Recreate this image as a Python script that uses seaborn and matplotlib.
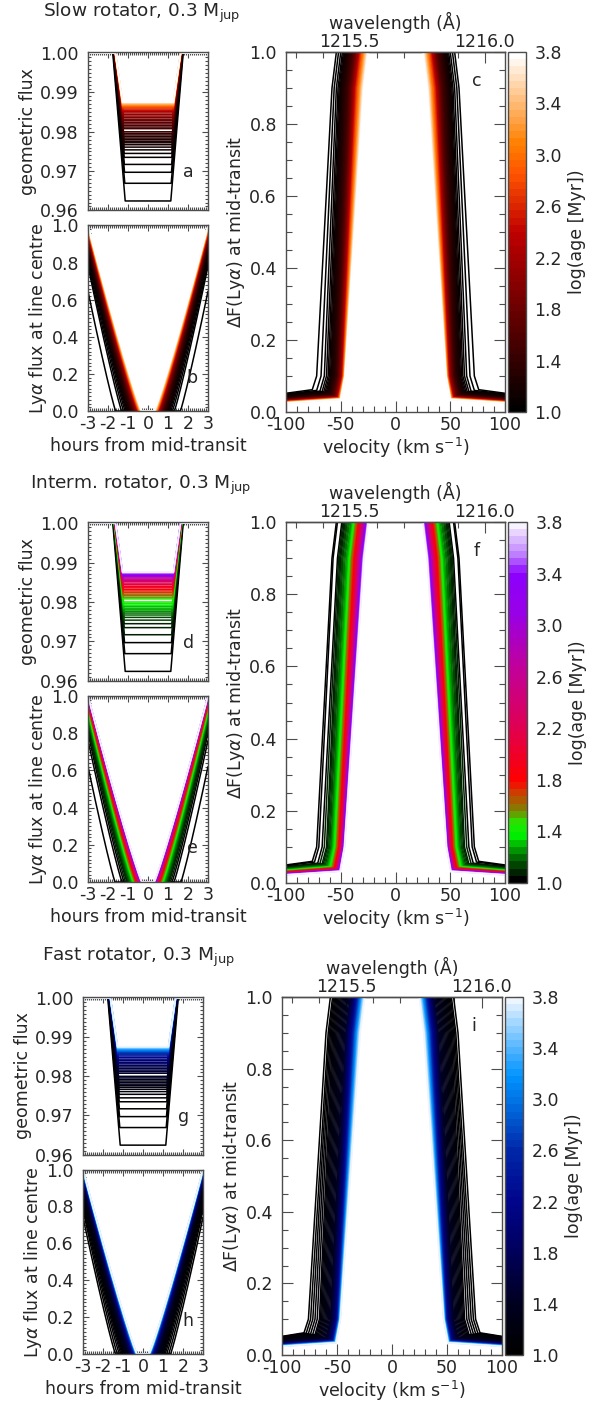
import numpy as np
import pandas as pd
import matplotlib
matplotlib.use("Agg")
import matplotlib.pyplot as plt
import seaborn as sns
from matplotlib.colors import LinearSegmentedColormap, Normalize
from matplotlib.cm import ScalarMappable
from matplotlib.ticker import MultipleLocator, FormatStrFormatter

# log(age [Myr]) of the model snapshots (same grid for the three rotators)
log_age = [1.00, 1.02, 1.04, 1.06, 1.08, 1.10, 1.12, 1.14, 1.17, 1.20,
           1.23, 1.26, 1.29, 1.32, 1.36, 1.40, 1.44, 1.48, 1.53, 1.58,
           1.64, 1.70, 1.77, 1.84, 1.92, 2.00, 2.10, 2.20, 2.32, 2.45,
           2.58, 2.72, 2.86, 3.00, 3.14, 3.28, 3.42, 3.56, 3.70, 3.80]

# geometric flux at mid-transit
geo_depth = [0.9624, 0.9669, 0.9697, 0.9717, 0.9735, 0.9745, 0.9754, 0.9761, 0.9767, 0.9772,
             0.9776, 0.9780, 0.9784, 0.9788, 0.9792, 0.9796, 0.9800, 0.9808, 0.9812, 0.9816,
             0.9820, 0.9824, 0.9828, 0.9832, 0.9836, 0.9840, 0.9844, 0.9848, 0.9852, 0.9855,
             0.9858, 0.9861, 0.9864, 0.9866, 0.9868, 0.9870, 0.9872, 0.9874, 0.9875, 0.9876]

# Lya at line centre: half width of the zero-flux part (hours) and flux at +-3 h
lya_t0_slow = [1.62, 1.32, 1.22, 1.14, 1.08, 1.03, 0.99, 0.96, 0.93, 0.90,
               0.88, 0.86, 0.84, 0.82, 0.80, 0.78, 0.76, 0.74, 0.72, 0.70,
               0.68, 0.66, 0.64, 0.62, 0.60, 0.58, 0.56, 0.54, 0.52, 0.50,
               0.48, 0.46, 0.44, 0.42, 0.40, 0.38, 0.36, 0.34, 0.32, 0.30]
lya_f3_slow = [0.645, 0.78, 0.80, 0.82, 0.84, 0.855, 0.865, 0.872, 0.878, 0.884,
               0.888, 0.892, 0.896, 0.900, 0.904, 0.908, 0.912, 0.916, 0.920, 0.924,
               0.928, 0.932, 0.936, 0.940, 0.944, 0.948, 0.952, 0.956, 0.960, 0.964,
               0.968, 0.972, 0.976, 0.980, 0.984, 0.988, 0.991, 0.994, 0.997, 1.000]
lya_t0_int = [1.65, 1.30, 1.20, 1.12, 1.05, 1.00, 0.96, 0.92, 0.89, 0.86,
              0.83, 0.80, 0.78, 0.76, 0.74, 0.72, 0.70, 0.68, 0.66, 0.64,
              0.62, 0.60, 0.58, 0.56, 0.54, 0.52, 0.50, 0.48, 0.46, 0.44,
              0.42, 0.40, 0.38, 0.36, 0.35, 0.34, 0.33, 0.32, 0.31, 0.30]
lya_f3_int = [0.62, 0.76, 0.80, 0.82, 0.84, 0.855, 0.865, 0.875, 0.883, 0.890,
              0.896, 0.902, 0.908, 0.913, 0.918, 0.923, 0.928, 0.933, 0.938, 0.943,
              0.948, 0.953, 0.958, 0.962, 0.966, 0.970, 0.974, 0.977, 0.980, 0.983,
              0.986, 0.988, 0.990, 0.992, 0.994, 0.996, 0.997, 0.998, 0.999, 1.000]
lya_t0_fast = [1.38, 1.28, 1.18, 1.10, 1.04, 0.99, 0.95, 0.91, 0.88, 0.85,
               0.82, 0.79, 0.77, 0.75, 0.73, 0.71, 0.69, 0.67, 0.65, 0.63,
               0.61, 0.59, 0.57, 0.55, 0.53, 0.51, 0.49, 0.47, 0.45, 0.43,
               0.41, 0.39, 0.37, 0.35, 0.34, 0.33, 0.32, 0.31, 0.30, 0.30]
lya_f3_fast = [0.74, 0.78, 0.80, 0.82, 0.84, 0.85, 0.86, 0.87, 0.878, 0.886,
               0.892, 0.898, 0.904, 0.910, 0.915, 0.920, 0.925, 0.930, 0.935, 0.940,
               0.944, 0.948, 0.952, 0.956, 0.960, 0.964, 0.968, 0.972, 0.975, 0.978,
               0.981, 0.984, 0.987, 0.990, 0.992, 0.994, 0.996, 0.998, 0.999, 1.000]

# dF(Lya) at mid-transit: |v| where dF reaches 1, |v| at dF=0.1 (km/s), level at +-100 km/s
vtop_slow = [54.0, 52.0, 50.0, 48.5, 47.5, 46.6, 45.9, 45.3, 44.7, 44.1,
             43.5, 42.9, 42.3, 41.7, 41.1, 40.5, 39.9, 39.3, 38.7, 38.1,
             37.5, 36.9, 36.4, 35.9, 35.4, 34.9, 34.4, 33.9, 33.3, 32.7,
             32.0, 31.2, 30.4, 29.6, 28.8, 28.0, 27.2, 26.4, 25.6, 24.8]
vlow_slow = [72.0, 68.0, 65.0, 63.0, 61.5, 60.3, 59.3, 58.5, 57.8, 57.2,
             56.6, 56.0, 55.5, 55.0, 54.5, 54.0, 53.6, 53.2, 52.8, 52.4,
             52.0, 51.6, 51.2, 50.8, 50.4, 50.0, 49.6, 49.2, 48.8, 48.4,
             48.1, 47.8, 47.5, 47.2, 46.9, 46.7, 46.5, 46.3, 46.1, 46.0]
base_slow = [0.052, 0.050, 0.048, 0.047, 0.046, 0.045, 0.044, 0.043, 0.042, 0.041,
             0.040, 0.040, 0.039, 0.038, 0.038, 0.037, 0.036, 0.036, 0.035, 0.035,
             0.034, 0.034, 0.033, 0.033, 0.032, 0.032, 0.031, 0.031, 0.030, 0.030,
             0.029, 0.029, 0.028, 0.028, 0.027, 0.027, 0.026, 0.026, 0.025, 0.025]
vtop_int = [54.0, 53.0, 49.0, 48.0, 47.0, 46.0, 45.0, 44.0, 43.0, 42.0,
            41.0, 40.0, 39.5, 39.0, 38.5, 38.0, 37.5, 37.0, 36.5, 36.0,
            35.3, 34.6, 34.0, 33.4, 32.8, 32.2, 31.6, 31.0, 30.4, 29.8,
            29.2, 28.6, 28.0, 27.5, 27.0, 26.5, 26.0, 25.5, 25.1, 24.8]
vlow_int = [72.0, 70.0, 67.0, 65.0, 63.0, 62.0, 61.0, 60.0, 59.0, 58.5,
            58.0, 57.5, 57.0, 56.5, 56.0, 55.5, 55.0, 54.5, 54.0, 53.5,
            53.0, 52.5, 52.0, 51.5, 51.0, 50.6, 50.2, 49.8, 49.4, 49.0,
            48.7, 48.4, 48.1, 47.8, 47.5, 47.2, 47.0, 46.8, 46.6, 46.4]
base_int = [0.050, 0.048, 0.045, 0.044, 0.043, 0.042, 0.041, 0.040, 0.039, 0.038,
            0.037, 0.036, 0.036, 0.035, 0.035, 0.034, 0.034, 0.033, 0.033, 0.032,
            0.032, 0.031, 0.031, 0.030, 0.030, 0.029, 0.029, 0.028, 0.028, 0.027,
            0.027, 0.026, 0.026, 0.025, 0.025, 0.024, 0.024, 0.023, 0.023, 0.022]
vtop_fast = [56.0, 54.0, 53.0, 52.0, 51.0, 50.0, 49.0, 48.0, 47.0, 46.0,
             45.0, 44.0, 43.0, 42.0, 41.0, 40.0, 39.0, 38.0, 37.5, 37.0,
             36.5, 36.0, 35.5, 35.0, 34.5, 34.0, 33.4, 32.8, 32.2, 31.6,
             31.0, 30.3, 29.6, 28.9, 28.2, 27.5, 26.8, 26.1, 25.4, 24.8]
vlow_fast = [76.0, 74.0, 72.0, 70.0, 68.0, 66.0, 65.0, 64.0, 63.0, 62.0,
             61.0, 60.0, 59.0, 58.0, 57.0, 56.0, 55.5, 55.0, 54.5, 54.0,
             53.5, 53.0, 52.5, 52.0, 51.5, 51.0, 50.6, 50.2, 49.8, 49.4,
             49.0, 48.7, 48.4, 48.1, 47.8, 47.6, 47.4, 47.2, 47.0, 46.8]
base_fast = [0.052, 0.051, 0.050, 0.049, 0.048, 0.047, 0.046, 0.045, 0.044, 0.043,
             0.042, 0.041, 0.040, 0.039, 0.038, 0.037, 0.036, 0.035, 0.034, 0.034,
             0.033, 0.033, 0.032, 0.032, 0.031, 0.031, 0.030, 0.030, 0.029, 0.029,
             0.028, 0.028, 0.027, 0.027, 0.026, 0.026, 0.025, 0.025, 0.024, 0.024]

# colour scales along log(age)
heat_cmap = plt.get_cmap("gist_heat")
interm_nodes = [(1.00, (0.0, 0.0, 0.0)), (1.15, (0.0, 0.35, 0.0)), (1.35, (0.0, 0.95, 0.0)),
                (1.45, (0.15, 0.9, 0.0)), (1.55, (0.5, 0.5, 0.0)), (1.68, (0.8, 0.25, 0.0)),
                (1.78, (1.0, 0.0, 0.0)), (2.20, (0.88, 0.0, 0.32)), (2.70, (0.75, 0.0, 0.62)),
                (3.10, (0.6, 0.0, 0.9)), (3.42, (0.55, 0.0, 1.0)), (3.55, (0.72, 0.45, 1.0)),
                (3.80, (0.97, 0.95, 1.0))]
fast_nodes = [(1.00, (0.0, 0.0, 0.0)), (1.40, (0.0, 0.0, 0.13)), (1.80, (0.0, 0.0, 0.36)),
              (2.20, (0.0, 0.02, 0.55)), (2.60, (0.0, 0.15, 0.66)), (3.00, (0.0, 0.45, 0.9)),
              (3.20, (0.0, 0.58, 1.0)), (3.40, (0.3, 0.7, 1.0)), (3.60, (0.6, 0.83, 1.0)),
              (3.80, (0.93, 0.96, 1.0))]

AGE_MIN, AGE_MAX = 1.0, 3.8
LAM0, C_KMS = 1215.67, 299792.458
HALF_DUR, INGRESS = 1.45, 1.6     # transit half duration and ingress scale (hours)


def node_cmap(name, nodes):
    return LinearSegmentedColormap.from_list(
        name, [((a - AGE_MIN) / (AGE_MAX - AGE_MIN), c) for a, c in nodes])


def build_frames(t0_list, f3_list, vtop, vlow, base):
    geo, lya, dfl = [], [], []
    t_grid = np.linspace(-3, 3, 241)
    for i, la in enumerate(log_age):
        d = geo_depth[i]
        rp = np.sqrt(1 - d)
        t1, t2 = HALF_DUR + INGRESS * rp, HALF_DUR - INGRESS * rp
        geo.append(pd.DataFrame({"t": [-3, -t1, -t2, t2, t1, 3], "flux": [1, 1, d, d, 1, 1],
                                 "log_age": la, "model": i}))
        s = np.clip((np.abs(t_grid) - t0_list[i]) / (3 - t0_list[i]), 0, None)
        lya.append(pd.DataFrame({"t": t_grid, "flux": f3_list[i] * s ** 1.1,
                                 "log_age": la, "model": i}))
        vt, vl, b = vtop[i], vlow[i], base[i]
        v = [-100, -(vl + 4), -vl, -(vt + 4), -vt, vt, vt + 4, vl, vl + 4, 100]
        y = [b, b + 0.01, 0.1, 0.9, 1.0, 1.0, 0.9, 0.1, b + 0.01, b]
        dfl.append(pd.DataFrame({"v": v, "dF": y, "log_age": la, "model": i}))
    return pd.concat(geo), pd.concat(lya), pd.concat(dfl)


sns.set_theme(style="ticks")
plt.rcParams["font.family"] = ["DejaVu Sans"]
plt.rcParams["axes.unicode_minus"] = False
plt.rcParams["axes.edgecolor"] = "0.3"
plt.rcParams["axes.linewidth"] = 1.0
FS = 12.5

W, H = 606, 1405
fig = plt.figure(figsize=(W / 100, H / 100), dpi=100)


def px_axes(x0, y0, x1, y1):
    return fig.add_axes([x0 / W, 1 - y1 / H, (x1 - x0) / W, (y1 - y0) / H])


def small_ticks(ax, ymaj, ymin, fmt):
    ax.xaxis.set_major_locator(MultipleLocator(1))
    ax.xaxis.set_minor_locator(MultipleLocator(0.1))
    ax.yaxis.set_major_locator(MultipleLocator(ymaj))
    ax.yaxis.set_minor_locator(MultipleLocator(ymin))
    ax.yaxis.set_major_formatter(FormatStrFormatter(fmt))
    ax.tick_params(which="both", direction="in", top=True, right=True,
                   color="0.3", width=0.8, labelsize=FS)
    ax.tick_params(which="major", length=4.5)
    ax.tick_params(axis="y", which="major", pad=6.5)
    ax.tick_params(axis="x", which="major", pad=3)
    ax.tick_params(which="minor", length=2.2)


rotators = [
    dict(title="Slow rotator, 0.3 M$_{\\rm jup}$", cmap=heat_cmap, letters="abc",
         t0=lya_t0_slow, f3=lya_f3_slow, vtop=vtop_slow, vlow=vlow_slow, base=base_slow,
         left=(88, 52, 208), right=(286, 505, 526), bottom=412, title_xy=(43, 13)),
    dict(title="Interm. rotator, 0.3 M$_{\\rm jup}$", cmap=node_cmap("interm", interm_nodes),
         letters="def", t0=lya_t0_int, f3=lya_f3_int, vtop=vtop_int, vlow=vlow_int,
         base=base_int, left=(88, 522, 208), right=(286, 505, 527), bottom=883,
         title_xy=(30, 485)),
    dict(title="Fast rotator, 0.3 M$_{\\rm jup}$", cmap=node_cmap("fast", fast_nodes),
         letters="ghi", t0=lya_t0_fast, f3=lya_f3_fast, vtop=vtop_fast, vlow=vlow_fast,
         base=base_fast, left=(83, 997, 203), right=(282, 502, 523), bottom=1355,
         title_xy=(42, 957)),
]

norm = Normalize(AGE_MIN, AGE_MAX)

for rot in rotators:
    cmap = rot["cmap"].resampled(50)
    geo_df, lya_df, dF_df = build_frames(rot["t0"], rot["f3"], rot["vtop"], rot["vlow"], rot["base"])
    xl, top, xr = rot["left"]
    bot = rot["bottom"]
    mid = top + 0.44 * (bot - top)
    kw = dict(hue="log_age", units="model", estimator=None, sort=False, legend=False,
              palette=cmap, hue_norm=norm, linewidth=1.1)

    fig.text(rot["title_xy"][0] / W, 1 - rot["title_xy"][1] / H, rot["title"],
             fontsize=13.3, ha="left", va="center")

    # geometric flux
    ax1 = px_axes(xl, top, xr, mid)
    sns.lineplot(data=geo_df, x="t", y="flux", ax=ax1, **kw)
    ax1.set_xlim(-3, 3)
    ax1.set_ylim(0.96, 1.0003)
    small_ticks(ax1, 0.01, 0.001, "%.2f")
    ax1.set_xticklabels([])
    ax1.set_xlabel("")
    ax1.set_ylabel("geometric flux", fontsize=FS, labelpad=2)
    ax1.text(0.84, 0.24, rot["letters"][0], transform=ax1.transAxes, fontsize=FS,
             ha="center", va="center")

    # Lya at line centre
    ax2 = px_axes(xl, mid + 15, xr, bot - 1)
    sns.lineplot(data=lya_df, x="t", y="flux", ax=ax2, **kw)
    ax2.set_xlim(-3, 3)
    ax2.set_ylim(0, 1)
    small_ticks(ax2, 0.2, 0.02, "%.1f")
    ax2.set_xlabel("hours from mid-transit", fontsize=FS, labelpad=3)
    ax2.set_ylabel("Ly$\\alpha$ flux at line centre", fontsize=FS, labelpad=2)
    ax2.text(0.87, 0.18, rot["letters"][1], transform=ax2.transAxes, fontsize=FS,
             ha="center", va="center")

    # dF(Lya) versus velocity
    x0, x1, xc = rot["right"]
    ax3 = px_axes(x0, top, x1, bot)
    sns.lineplot(data=dF_df, x="v", y="dF", ax=ax3, **kw)
    ax3.set_xlim(-100, 100)
    ax3.set_ylim(0, 1)
    ax3.xaxis.set_major_locator(MultipleLocator(50))
    ax3.xaxis.set_minor_locator(MultipleLocator(10))
    ax3.yaxis.set_major_locator(MultipleLocator(0.2))
    ax3.yaxis.set_minor_locator(MultipleLocator(0.05))
    ax3.yaxis.set_major_formatter(FormatStrFormatter("%.1f"))
    ax3.tick_params(which="both", direction="in", top=False, right=True,
                    color="0.3", width=0.8, labelsize=FS)
    ax3.tick_params(which="major", length=8)
    ax3.tick_params(axis="y", which="major", pad=6.5)
    ax3.tick_params(axis="x", which="major", pad=3)
    ax3.tick_params(which="minor", length=4.5)
    ax3.set_xlabel("velocity (km s$^{-1}$)", fontsize=FS, labelpad=1)
    ax3.set_ylabel("$\\Delta$F(Ly$\\alpha$) at mid-transit", fontsize=FS, labelpad=2)
    ax3.text(0.87, 0.92, rot["letters"][2], transform=ax3.transAxes, fontsize=FS,
             ha="center", va="center")

    sec = ax3.secondary_xaxis("top", functions=(lambda v: LAM0 * (1 + np.asarray(v) / C_KMS),
                                                lambda l: (np.asarray(l) / LAM0 - 1) * C_KMS))
    sec.set_xticks([1215.5, 1216.0])
    sec.xaxis.set_major_formatter(FormatStrFormatter("%.1f"))
    sec.xaxis.set_minor_locator(MultipleLocator(0.1))
    sec.tick_params(which="both", direction="in", color="0.3", width=0.8, labelsize=FS)
    sec.tick_params(which="major", length=8, pad=1)
    sec.tick_params(which="minor", length=4.5)
    sec.set_xlabel("wavelength (Å)", fontsize=FS, labelpad=2.5)

    # colour bar
    cax = px_axes(x1 + 3, top, xc, bot)
    cb = fig.colorbar(ScalarMappable(norm=norm, cmap=cmap), cax=cax)
    cb.set_ticks(np.arange(1.0, 3.81, 0.4))
    cb.ax.yaxis.set_major_formatter(FormatStrFormatter("%.1f"))
    cb.ax.yaxis.set_minor_locator(MultipleLocator(0.04))
    cb.ax.tick_params(which="both", direction="in", color="0.3", width=0.8, labelsize=FS)
    cb.ax.tick_params(which="major", length=5, pad=6)
    cb.ax.tick_params(which="minor", length=2.5)
    cb.outline.set_edgecolor("0.3")
    cb.set_label("log(age [Myr])", fontsize=FS, labelpad=4)

fig.savefig("out.png", dpi=100)
